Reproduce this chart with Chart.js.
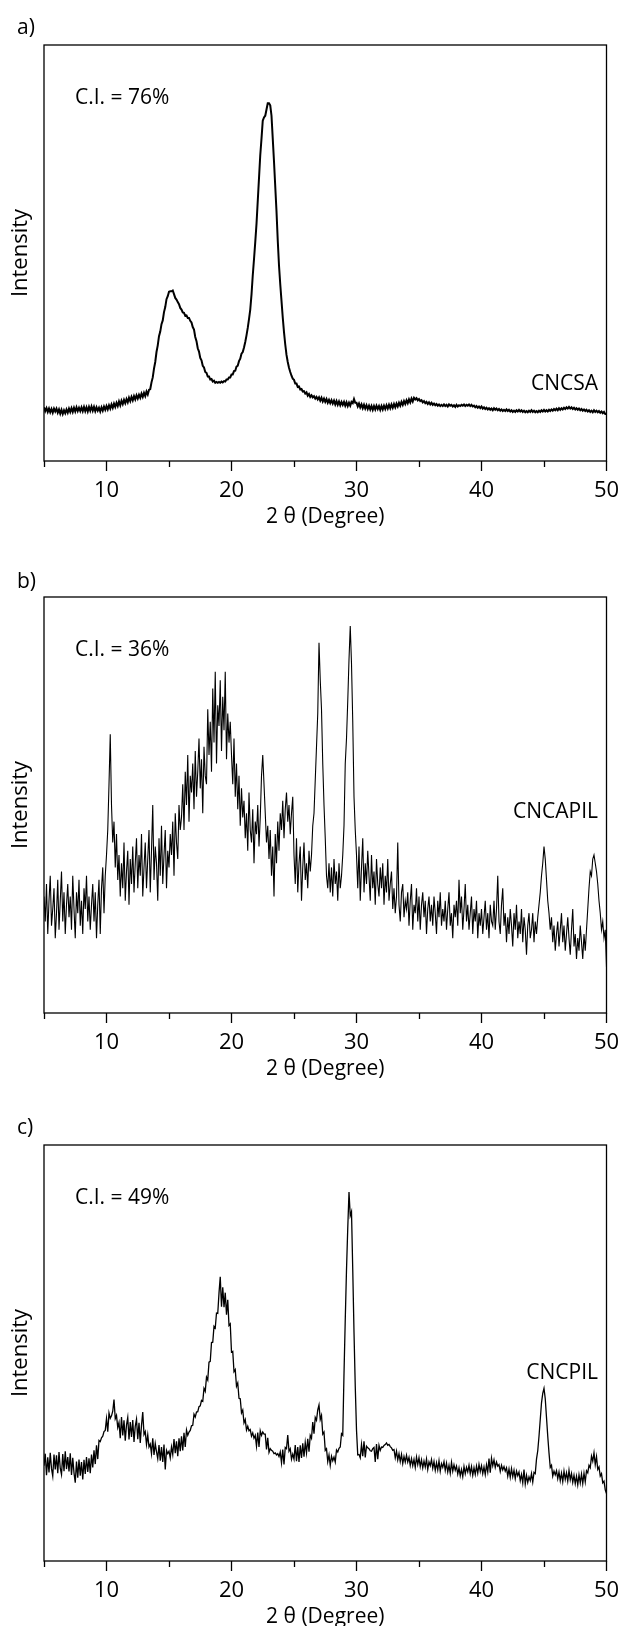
<!DOCTYPE html>
<html><head><meta charset="utf-8">
<script src="https://cdn.jsdelivr.net/npm/chart.js@4.4.1/dist/chart.umd.min.js"></script>
<style>
html,body{margin:0;padding:0;background:#fff;overflow:hidden;width:620px;height:1626px;}
canvas{position:absolute;left:0;display:block;}
.txt{position:absolute;font-family:"Open Sans";font-size:21px;line-height:21px;color:#000;white-space:nowrap;}
</style></head>
<body>
<canvas id="ca" width="620" height="540" style="top:0px"></canvas>
<canvas id="cb" width="620" height="540" style="top:552px"></canvas>
<canvas id="cc" width="620" height="540" style="top:1100px"></canvas>
<div class="txt" style="left:17px;top:16px">a)</div>
<div class="txt" style="left:75px;top:86px">C.I. = 76%</div>
<div class="txt" style="right:22px;top:372px">CNCSA</div>
<div class="txt" style="left:17px;top:569.5px">b)</div>
<div class="txt" style="left:75px;top:637.8px">C.I. = 36%</div>
<div class="txt" style="right:22px;top:799.5px">CNCAPIL</div>
<div class="txt" style="left:17px;top:1116px">c)</div>
<div class="txt" style="left:75px;top:1186px">C.I. = 49%</div>
<div class="txt" style="right:22px;top:1361px">CNCPIL</div>
<script>
// 2θ sampling grid (degrees)
const thetaStart = 5.0;
const thetaStep = 0.1;
const majorTicks = [10, 20, 30, 40, 50];
const minorTicks = [5, 15, 25, 35, 45];

// a) CNCSA intensity (relative units, 0-100 of plot height)
const cncsa = [
12.9,12.0,12.7,11.8,12.6,11.7,12.5,11.6,12.6,11.9,
12.6,11.6,12.4,11.4,12.3,11.3,12.2,11.5,12.4,11.6,
12.6,11.8,12.7,11.8,12.8,11.9,12.9,12.0,12.8,12.0,
12.9,12.0,13.0,12.0,12.9,11.9,13.0,12.1,13.1,12.1,
13.0,12.0,12.9,12.1,12.8,11.9,12.9,12.1,13.1,12.3,
13.2,12.4,13.4,12.6,13.6,12.8,13.8,13.0,14.0,13.2,
14.3,13.4,14.5,13.7,14.7,13.9,14.9,14.1,15.2,14.4,
15.4,14.6,15.6,14.8,15.8,15.0,15.9,15.2,16.2,15.4,
16.4,15.6,16.7,16.0,17.1,17.3,18.9,20.1,22.2,23.8,
26.2,27.8,30.0,31.1,32.9,33.8,35.8,37.0,38.9,39.6,
40.7,40.8,40.8,41.0,40.1,39.2,38.8,38.2,37.7,36.8,
36.4,35.7,35.6,34.9,35.0,34.4,34.4,33.7,33.3,32.2,
31.6,29.8,28.8,27.1,26.3,24.8,24.2,22.9,22.5,21.4,
21.2,20.3,20.3,19.6,19.7,19.1,19.3,18.8,19.0,18.8,
19.0,18.8,19.1,18.9,19.2,19.1,19.6,19.6,20.1,20.1,
20.8,20.8,21.6,21.7,22.7,22.9,24.0,24.6,25.8,26.2,
27.3,28.6,30.2,32.0,34.1,36.4,40.0,44.6,48.5,52.6,
57.0,62.5,68.0,73.5,77.5,81.8,82.6,83.0,84.5,86.0,
86.0,85.5,83.0,77.5,72.0,66.0,60.0,53.0,47.0,42.5,
38.5,34.5,31.0,28.0,25.5,23.8,22.4,21.4,20.5,19.8,
19.5,18.6,18.6,17.8,17.9,17.2,17.3,16.7,16.8,16.2,
16.5,15.7,16.1,15.4,15.8,15.3,15.6,15.0,15.4,14.8,
15.3,14.5,15.2,14.3,15.0,14.2,14.9,14.0,14.7,13.9,
14.6,13.8,14.5,13.6,14.4,13.5,14.3,13.4,14.2,13.5,
14.2,13.3,14.1,13.2,14.0,13.3,14.2,13.9,14.9,14.0,
14.0,13.1,13.8,12.9,13.6,12.7,13.5,12.6,13.4,12.5,
13.3,12.4,13.2,12.3,13.2,12.4,13.3,12.5,13.2,12.3,
13.2,12.4,13.3,12.5,13.4,12.6,13.5,12.7,13.6,12.8,
13.7,12.9,13.8,13.1,14.0,13.3,14.2,13.5,14.4,13.7,
14.6,13.9,14.8,14.1,15.0,14.3,15.2,14.8,15.1,14.6,
14.9,14.4,14.6,14.1,14.4,13.9,14.2,13.7,14.1,13.6,
14.0,13.5,13.8,13.4,13.7,13.3,13.6,13.2,13.5,13.2,
13.6,13.2,13.5,13.1,13.6,13.3,13.5,13.1,13.4,13.0,
13.5,13.1,13.4,13.2,13.5,13.3,13.6,13.2,13.5,13.3,
13.6,13.2,13.5,13.1,13.3,12.9,13.2,12.8,13.1,12.7,
13.1,12.6,12.9,12.5,12.8,12.4,12.7,12.3,12.6,12.2,
12.7,12.3,12.6,12.2,12.5,12.1,12.4,12.0,12.3,12.0,
12.4,12.0,12.3,11.9,12.2,11.8,12.1,11.8,12.2,11.9,
12.3,11.9,12.2,11.8,12.1,11.7,12.0,11.7,12.1,11.8,
12.2,11.8,12.1,11.7,12.0,11.7,12.1,11.8,12.2,11.9,
12.3,11.9,12.2,11.9,12.3,12.0,12.4,12.1,12.5,12.2,
12.6,12.2,12.7,12.3,12.7,12.4,12.8,12.5,12.9,12.6,
13.0,12.6,12.9,12.5,12.8,12.4,12.7,12.3,12.6,12.2,
12.5,12.1,12.4,12.0,12.3,11.9,12.2,11.8,12.1,11.7,
12.2,11.8,12.1,11.7,12.0,11.6,11.9,11.5,11.8,11.3,
11.3];

// b) CNCAPIL intensity
const cncapil = [
28,22,31,19,27,33,21,25,30,18,
24,32,20,27,34,22,29,19,26,31,
23,28,20,33,25,18,29,24,32,21,
27,19,30,25,33,22,28,20,26,31,
22,29,18,26,32,19,30,35,24,33,
38,44,55,67,50,41,46,35,43,32,
38,28,36,30,41,27,34,39,26,37,
31,40,29,36,42,30,38,33,43,28,
35,41,30,37,44,29,39,50,32,40,
36,27,42,33,45,31,38,44,30,39,
35,43,38,46,33,48,41,37,50,44,
47,55,44,58,50,62,46,57,53,60,
49,63,52,58,66,54,61,48,64,57,
55,73,62,70,58,78,65,82,60,74,
69,80,63,76,68,82,61,72,65,70,
62,55,66,52,60,49,57,45,54,47,
51,42,48,39,53,44,41,49,36,46,
43,50,40,47,57,62,55,48,41,45,
37,44,33,40,28,43,36,46,39,48,
44,51,42,49,53,46,50,43,48,52,
38,31,42,29,36,40,27,35,41,32,
36,30,39,34,38,45,48,56,64,72,
89,80,73,60,50,42,33,30,36,29,
35,28,37,31,34,27,36,30,33,38,
45,60,66,75,85,93,84,70,52,44,
38,30,40,27,35,42,29,36,31,39,
33,27,38,30,34,26,37,31,28,35,
30,36,26,33,29,37,27,31,34,25,
30,24,28,41,26,22,29,31,23,27,
25,29,21,27,31,20,26,24,30,22,
28,20,26,29,23,27,19,25,28,22,
26,21,28,24,19,27,23,29,21,25,
22,27,20,25,29,21,24,18,26,23,
27,21,32,24,28,20,25,31,22,26,
20,24,28,19,25,22,27,18,24,21,
25,19,23,27,20,24,18,26,22,21,
27,20,25,33,22,19,26,30,21,24,
17,23,19,25,21,16,24,20,26,18,
22,19,25,17,23,20,14,21,24,18,
20,24,17,22,19,23,26,29,33,36,
40,37,32,27,24,20,23,17,21,15,
19,22,16,20,24,17,21,15,19,23,
18,14,20,25,16,19,13,18,15,21,
17,13,19,15,20,25,30,34,33,37,
38,36,34,31,27,24,20,22,18,20,
11];

// c) CNCPIL intensity
const cncpil = [
22.9,25.8,20.6,24.9,21.3,26.0,22.2,20.4,25.6,22.0,
25.4,21.1,26.2,22.3,20.8,25.7,21.6,26.4,22.1,25.0,
21.5,25.9,20.7,24.8,21.2,18.8,23.9,20.0,24.4,20.5,
23.8,19.6,24.3,20.9,25.0,21.4,24.7,21.1,25.6,22.5,
26.6,23.3,27.8,24.5,29.0,28.7,29.6,30.0,31.1,31.4,
34.2,31.1,35.6,34.3,34.9,36.0,38.8,34.2,35.0,32.1,
33.3,29.5,34.6,30.2,33.8,28.9,32.7,34.5,29.2,33.4,
29.8,33.9,28.6,32.4,34.1,29.3,33.2,28.4,32.6,35.8,
30.4,31.1,28.0,30.3,27.4,28.1,25.8,29.5,25.5,28.2,
26.3,24.6,27.9,24.1,27.4,23.8,28.0,22.0,26.6,25.8,
26.4,24.8,27.4,25.6,29.3,25.9,28.8,25.2,29.5,26.4,
30.0,26.6,30.8,27.4,31.5,30.2,31.0,31.4,32.5,32.6,
35.3,34.6,35.8,35.9,37.1,37.3,38.6,38.4,41.5,40.8,
44.2,43.5,47.8,48.0,52.5,52.6,56.4,56.0,59.6,59.5,
64.4,68.3,61.1,65.8,61.0,64.5,59.2,62.8,56.6,57.0,
50.2,50.4,45.5,46.0,42.0,42.8,39.1,39.0,35.6,36.3,
33.2,34.0,31.5,32.4,31.3,31.6,30.0,30.8,29.5,30.2,
27.6,30.9,27.4,31.3,30.2,31.0,30.5,30.5,26.8,29.6,
26.1,27.0,26.6,26.4,25.8,26.0,25.5,25.8,25.1,26.2,
23.6,26.8,23.2,27.3,27.0,30.3,26.4,27.0,24.5,25.7,
24.5,27.9,24.0,27.4,23.8,27.8,24.8,28.3,25.1,28.5,
26.0,29.4,26.3,30.2,29.5,33.4,30.6,34.5,33.8,36.3,
37.5,34.0,35.0,30.5,31.0,26.6,27.0,23.9,25.5,23.0,
25.2,24.1,25.0,23.8,26.7,26.2,27.1,27.4,30.6,30.2,
45.0,58.0,70.0,80.0,88.7,83.0,84.0,70.0,55.0,42.0,
31.5,25.5,25.6,24.8,28.0,25.2,28.8,24.9,27.6,27.2,
27.0,26.5,26.4,27.0,27.3,23.8,28.1,24.5,27.8,26.6,
27.4,27.3,27.8,28.0,28.4,27.8,28.0,27.5,27.2,26.6,
26.8,24.8,26.4,24.3,25.8,23.9,25.6,23.4,25.1,23.8,
25.4,23.8,24.9,23.0,24.6,22.9,24.4,22.5,25.0,23.2,
24.8,22.7,24.3,22.4,24.0,22.6,24.5,22.0,23.8,22.9,
24.4,22.3,23.9,21.8,23.6,21.9,24.1,21.6,23.4,22.5,
23.9,21.8,23.5,21.4,23.0,21.1,23.7,21.6,23.1,21.8,
22.8,20.9,22.4,20.5,22.0,20.3,22.7,21.0,22.5,21.4,
23.0,21.0,22.7,20.6,22.4,20.8,22.8,21.1,23.2,21.5,
22.9,21.0,22.6,20.8,23.1,21.4,24.6,21.2,24.7,22.9,
24.3,22.5,23.8,22.8,23.2,21.5,23.0,21.9,22.7,21.6,
22.4,20.4,22.1,20.1,22.2,20.3,21.8,19.8,21.6,20.5,
21.4,19.3,20.8,18.8,22.0,18.5,20.6,18.9,20.2,19.3,
21.0,19.0,21.3,21.0,24.5,26.5,30.0,34.0,38.0,40.3,
41.5,39.0,34.5,30.0,26.0,22.5,23.0,20.4,21.6,20.7,
21.7,19.8,21.4,19.3,21.1,19.1,21.6,19.6,21.2,19.2,
21.8,19.5,21.0,18.9,20.6,18.6,20.4,18.3,20.7,18.8,
20.9,18.6,21.1,19.0,21.7,21.2,23.0,22.4,25.2,24.0,
26.0,23.2,25.1,22.0,22.6,20.4,21.0,18.8,19.2,17.1,
16.2];

const TICK_FONT = {family: 'Open Sans', size: 22};
const TITLE_FONT_X = {family: 'Open Sans', size: 21};
const TITLE_FONT_Y = {family: 'Open Sans', size: 22};

const framePlugin = {
  id: 'frame',
  afterDraw(chart) {
    const {ctx, chartArea: a} = chart;
    ctx.save();
    ctx.strokeStyle = '#000';
    ctx.lineWidth = 1.3;
    ctx.strokeRect(a.left, a.top, a.right - a.left, a.bottom - a.top);
    ctx.restore();
  }
};

function makeChart(id, values, lw) {
  const pts = values.map((v, i) => ({x: +(thetaStart + i * thetaStep).toFixed(1), y: v}));
  return new Chart(document.getElementById(id), {
    type: 'line',
    data: {datasets: [{data: pts, borderColor: '#000', borderWidth: lw, pointRadius: 0, tension: 0, fill: false}]},
    options: {
      responsive: false, animation: false, devicePixelRatio: 1,
      layout: {padding: {top: 45, right: 13.5, left: 0, bottom: 0}},
      plugins: {legend: {display: false}, tooltip: {enabled: false}},
      scales: {
        x: {
          type: 'linear', position: 'bottom', min: 5, max: 50,
          afterBuildTicks: ax => { ax.ticks = majorTicks.map(v => ({value: v})); },
          afterFit: s => { s.height = 79; s.paddingRight = 0; s.paddingLeft = 0; },
          grid: {drawOnChartArea: false, drawTicks: true, tickLength: 10, tickColor: '#000', tickWidth: 1.3},
          border: {display: false},
          ticks: {padding: 6.5, color: '#000', font: TICK_FONT, maxRotation: 0, autoSkip: false},
          title: {display: true, text: '2 θ (Degree)', color: '#000', font: TITLE_FONT_X, padding: {top: 0, bottom: 10.5}}
        },
        x2: {
          type: 'linear', axis: 'x', position: {y: 0}, min: 5, max: 50,
          afterBuildTicks: ax => { ax.ticks = minorTicks.map(v => ({value: v})); },
          afterFit: s => { s.paddingRight = 0; s.paddingLeft = 0; },
          grid: {drawOnChartArea: false, drawTicks: true, tickLength: 6, tickColor: '#000', tickWidth: 1.3},
          border: {display: false},
          ticks: {display: false}
        },
        y: {
          type: 'linear', position: 'left', min: 0, max: 100,
          afterFit: s => { s.width = 44; s.paddingTop = 0; s.paddingBottom = 0; },
          grid: {display: false}, border: {display: false}, ticks: {display: false},
          title: {display: true, text: 'Intensity', color: '#000', font: TITLE_FONT_Y, padding: {top: 7.5, bottom: 0}}
        }
      }
    },
    plugins: [framePlugin]
  });
}

makeChart('ca', cncsa, 2.0);
makeChart('cb', cncapil, 1.1);
makeChart('cc', cncpil, 1.3);
</script>
</body></html>
